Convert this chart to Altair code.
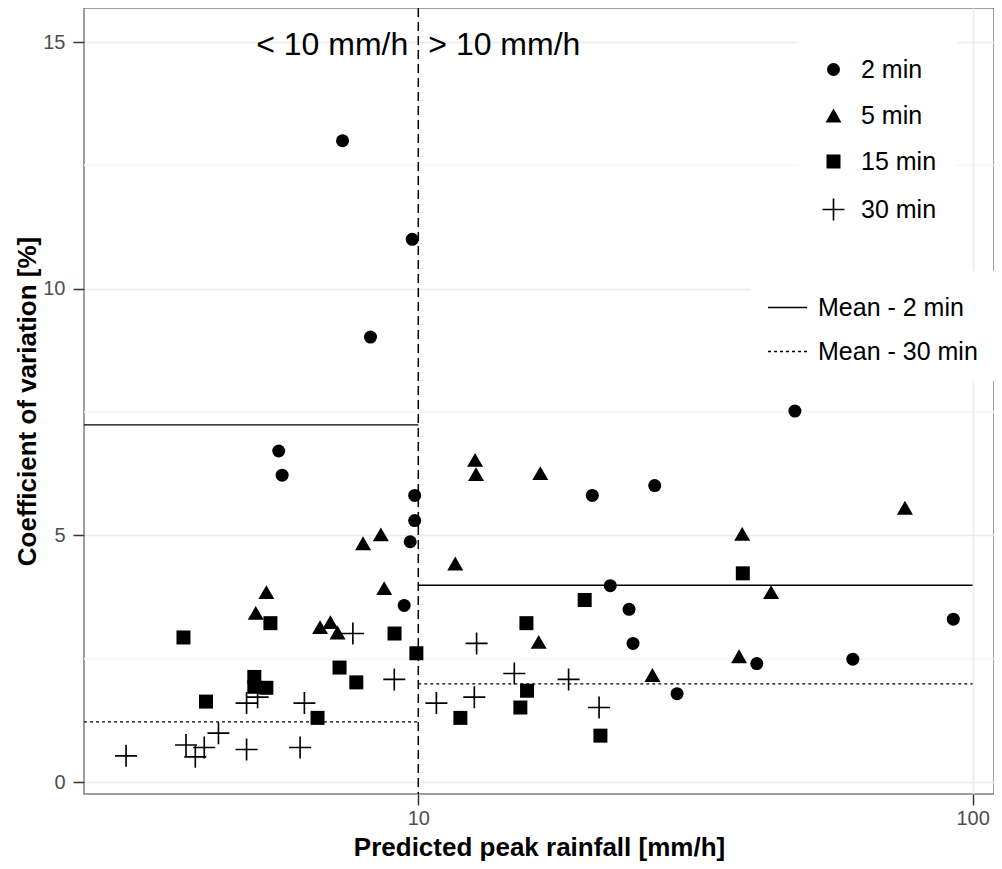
import altair as alt
import pandas as pd

# ---- data ----
series_names = ["2 min", "5 min", "15 min", "30 min"]

x_2min = [7.30, 9.75, 8.20, 5.60, 5.68, 9.85, 9.85, 9.67, 9.43, 20.6, 22.2, 24.0, 24.4, 26.7, 47.8, 92.3, 40.8, 60.8, 29.3]
y_2min = [13.0, 11.0, 9.02, 6.71, 6.22, 5.81, 5.30, 4.87, 3.58, 5.81, 3.98, 3.50, 2.81, 6.01, 7.52, 3.30, 2.40, 2.49, 1.79]

x_5min = [5.32, 5.09, 7.95, 8.56, 8.68, 6.65, 6.94, 7.15, 12.66, 12.71, 16.6, 11.66, 16.49, 26.45, 38.4, 75.5, 43.3, 37.9]
y_5min = [3.85, 3.43, 4.84, 5.02, 3.93, 3.14, 3.24, 3.03, 6.53, 6.24, 6.26, 4.43, 2.84, 2.17, 5.03, 5.56, 3.85, 2.55]

x_15min = [5.41, 9.06, 9.92, 7.21, 7.73, 5.06, 5.06, 5.32, 3.77, 4.14, 6.58, 19.96, 15.67, 15.71, 15.28, 11.91, 21.31, 38.5]
y_15min = [3.22, 3.01, 2.61, 2.32, 2.02, 2.13, 1.93, 1.91, 2.93, 1.63, 1.30, 3.69, 3.22, 1.85, 1.51, 1.30, 0.94, 4.23]

x_30min = [2.97, 3.81, 3.96, 4.11, 4.36, 4.90, 4.90, 5.13, 6.23, 6.12, 7.62, 9.05, 10.78, 12.74, 12.62, 14.90, 18.67, 21.19]
y_30min = [0.53, 0.75, 0.51, 0.70, 0.99, 0.66, 1.60, 1.72, 1.60, 0.70, 3.01, 2.08, 1.60, 2.81, 1.72, 2.20, 2.08, 1.51]

X_MIN, X_MAX = 2.494, 109.3
Y_MIN, Y_MAX = -0.243, 15.69

mean_labels = ["Mean - 2 min", "Mean - 2 min", "Mean - 30 min", "Mean - 30 min"]
mean_x_start = [X_MIN, 10, X_MIN, 10]
mean_x_end = [10, 100, 10, 100]
mean_y = [7.24, 3.99, 1.22, 1.99]

split_x = [10]
annot_text = ["< 10 mm/h", "> 10 mm/h"]
annot_y = 15

x_major = [10, 100]
y_major = [0, 5, 10, 15]
y_minor = [2.5, 7.5, 12.5]

# ---- tables ----
pts = pd.concat([
    pd.DataFrame({"x": xs, "y": ys, "series": name})
    for name, xs, ys in [
        ("2 min", x_2min, y_2min),
        ("5 min", x_5min, y_5min),
        ("15 min", x_15min, y_15min),
        ("30 min", x_30min, y_30min),
    ]
], ignore_index=True)
means = pd.DataFrame({"x": mean_x_start, "x2": mean_x_end, "y": mean_y, "label": mean_labels})
minor = pd.DataFrame({"y": y_minor})
split = pd.DataFrame({"x": split_x})
annot = pd.DataFrame({"x": [10, 10], "y": [annot_y, annot_y], "label": annot_text})

FONT = "Liberation Sans"
xscale = alt.Scale(type="log", domain=[X_MIN, X_MAX], nice=False)
yscale = alt.Scale(domain=[Y_MIN, Y_MAX], nice=False, zero=False)

xaxis = alt.Axis(values=x_major, format="d", title="Predicted peak rainfall [mm/h]",
                 titleFont=FONT, titleFontSize=26, titleFontWeight="bold", titleColor="black",
                 titleY=61, titleBaseline="alphabetic",
                 labelFont=FONT, labelFontSize=20, labelColor="#4d4d4d",
                 labelPadding=3, tickSize=11, tickColor="#333333", tickWidth=1.5,
                 domain=False, grid=True, gridColor="#ebebeb", gridWidth=1.5, labelFlush=False)
yaxis = alt.Axis(values=y_major, title="Coefficient of variation [%]",
                 titleFont=FONT, titleFontSize=26, titleFontWeight="bold", titleColor="black",
                 titlePadding=2, labelFont=FONT, labelFontSize=20, labelColor="#4d4d4d",
                 labelPadding=8, tickSize=11, tickColor="#333333", tickWidth=1.5,
                 domain=False, grid=True, gridColor="#ebebeb", gridWidth=1.5)

X = lambda f="x": alt.X(f"{f}:Q", scale=xscale, axis=xaxis)
Y = lambda f="y": alt.Y(f"{f}:Q", scale=yscale, axis=yaxis)

PLUS = ("M-1,-0.075H-0.075V-1H0.075V-0.075H1V0.075H0.075V1"
        "H-0.075V0.075H-1Z")

leg1 = alt.Legend(title=None, orient="none", legendX=714, legendY=29, fillColor="white",
                  padding=20, labelFontSize=25, labelFont=FONT, labelColor="black",
                  rowPadding=20, symbolOffset=3, labelOffset=15,
                  symbolFillColor="black")
leg2 = alt.Legend(title=None, orient="none", legendX=667, legendY=263, fillColor="white",
                  padding=16, labelFontSize=25, labelFont=FONT, labelColor="black",
                  rowPadding=10, labelOffset=10, symbolType="stroke", symbolSize=1521,
                  symbolStrokeColor="black", symbolStrokeWidth=1.4)

minor_layer = alt.Chart(minor).mark_rule(color="#f6f6f6", strokeWidth=1.5).encode(y=Y())

mean_layer = alt.Chart(means).mark_rule(color="black", strokeWidth=1.4).encode(
    x=X(), x2="x2:Q", y=Y(),
    strokeDash=alt.StrokeDash("label:N",
                              scale=alt.Scale(domain=["Mean - 2 min", "Mean - 30 min"],
                                              range=[[1, 0], [3, 3]]),
                              legend=leg2),
)

split_layer = alt.Chart(split).mark_rule(color="black", strokeWidth=1.5, strokeDash=[9, 5]).encode(x=X())

point_layer = alt.Chart(pts).mark_point(filled=True, color="black", opacity=1).encode(
    x=X(), y=Y(),
    shape=alt.Shape("series:N", scale=alt.Scale(domain=series_names,
                    range=["circle", "triangle-up", "square", PLUS]), legend=leg1),
    size=alt.Size("series:N", scale=alt.Scale(type="ordinal", domain=series_names,
                                              range=[169, 256, 196, 484]),
                  legend=leg1),
)

text_left = alt.Chart(annot.iloc[[0]]).mark_text(font=FONT, fontSize=32, color="black",
                                                   align="right", baseline="middle", dx=-10, dy=3).encode(
    x=X(), y=Y(), text="label:N")
text_right = alt.Chart(annot.iloc[[1]]).mark_text(font=FONT, fontSize=32, color="black",
                                                    align="left", baseline="middle", dx=10, dy=3).encode(
    x=X(), y=Y(), text="label:N")

chart = alt.layer(minor_layer, mean_layer, split_layer, point_layer, text_left, text_right).properties(
    width=910, height=786,
    autosize=alt.AutoSizeParams(type="none"),
    padding={"left": 76, "top": 0, "right": 0, "bottom": 67},
).configure_view(stroke="#7f7f7f", strokeWidth=1.5)

chart.save("out.html", embed_options={"renderer": "svg", "actions": False})
